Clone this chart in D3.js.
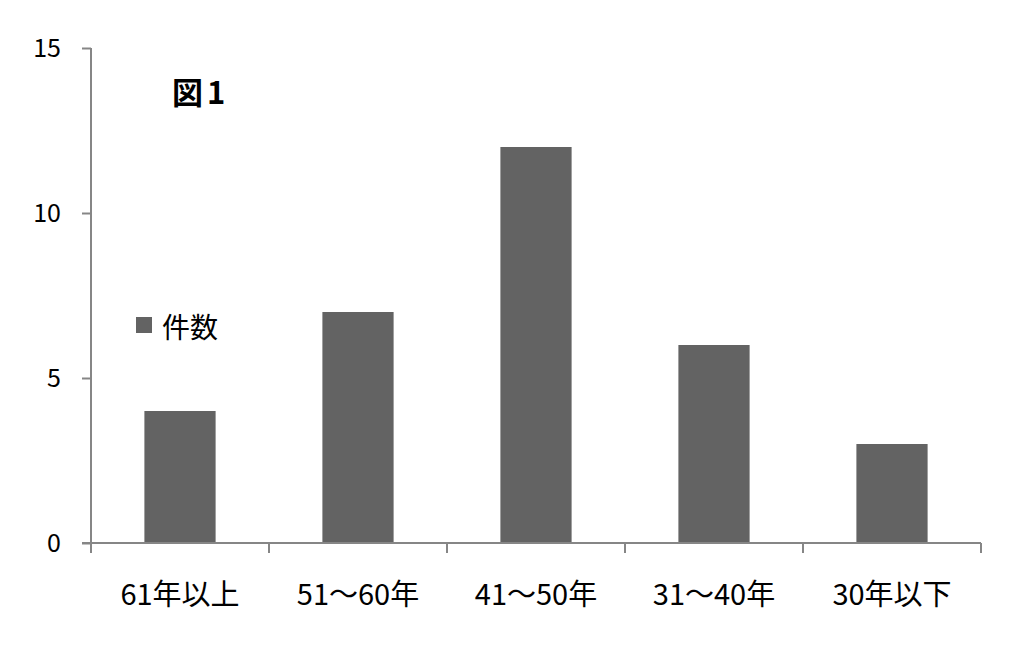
<!DOCTYPE html>
<html>
<head>
<meta charset="utf-8">
<script src="https://cdn.jsdelivr.net/npm/d3@7"></script>
<style>
  body { margin: 0; background: #fff; }
  text { font-family: "Noto Sans CJK JP", "DejaVu Sans", sans-serif; }
</style>
</head>
<body>
<svg id="chart"></svg>
<script>
// Chart data
const categories = ["61年以上", "51～60年", "41～50年", "31～40年", "30年以下"];
const counts = [4, 7, 12, 6, 3];
const y_ticks = [0, 5, 10, 15];
const series_name = "件数";
const chart_title = "図1";

const width = 1028, height = 648;
const plot = { left: 91, right: 981, top: 48, bottom: 543 };
const axis_color = "#868686", bar_color = "#636363";

const svg = d3.select("#chart")
    .attr("width", width)
    .attr("height", height);

// Scales
const x = d3.scaleBand()
    .domain(categories)
    .range([plot.left, plot.right])
    .paddingInner(0.6)
    .paddingOuter(0.3);

const y = d3.scaleLinear()
    .domain([0, 15])
    .range([plot.bottom, plot.top]);

// Bars
svg.selectAll(".bar")
    .data(counts)
    .enter()
    .append("rect")
    .attr("class", "bar")
    .attr("x", (d, i) => x(categories[i]))
    .attr("width", x.bandwidth())
    .attr("y", d => y(d))
    .attr("height", d => y(0) - y(d))
    .attr("fill", bar_color);

// Y axis
const y_axis = svg.append("g")
    .attr("transform", "translate(" + plot.left + ",0)")
    .call(d3.axisLeft(y).tickValues(y_ticks).tickSize(9).tickPadding(21));
y_axis.select(".domain").attr("stroke", axis_color).attr("stroke-width", 2)
    .attr("d", "M0," + plot.top + "V" + plot.bottom);
y_axis.selectAll(".tick line").attr("stroke", axis_color).attr("stroke-width", 2);
y_axis.selectAll(".tick text")
    .attr("fill", "#000")
    .style("font-size", "25px")
    .style("font-family", "'Noto Sans CJK JP', sans-serif");

// X axis, ticks at the category boundaries
const boundaries = categories.map(c => x(c) - x.step() * x.paddingInner() / 2);
boundaries.push(plot.right);
const x_axis = svg.append("g");
x_axis.append("line")
    .attr("x1", plot.left - 9).attr("x2", plot.right)
    .attr("y1", y(0)).attr("y2", y(0))
    .attr("stroke", axis_color).attr("stroke-width", 2);
x_axis.selectAll(".xtick")
    .data(boundaries)
    .enter()
    .append("line")
    .attr("x1", d => d).attr("x2", d => d)
    .attr("y1", y(0)).attr("y2", y(0) + 10)
    .attr("stroke", axis_color).attr("stroke-width", 2);
x_axis.selectAll(".xlabel")
    .data(categories)
    .enter()
    .append("text")
    .attr("x", d => x(d) + x.bandwidth() / 2)
    .attr("y", 605)
    .attr("text-anchor", "middle")
    .style("font-size", "29px")
    .text(d => d);

// Title
svg.append("text")
    .attr("x", 172)
    .attr("y", 104)
    .style("font-size", "31px")
    .style("font-weight", "bold")
    .style("letter-spacing", "4px")
    .text(chart_title);

// Legend
svg.append("rect")
    .attr("x", 136).attr("y", 317)
    .attr("width", 16).attr("height", 16)
    .attr("fill", bar_color);
svg.append("text")
    .attr("x", 162)
    .attr("y", 338)
    .style("font-size", "28px")
    .text(series_name);
</script>
</body>
</html>
